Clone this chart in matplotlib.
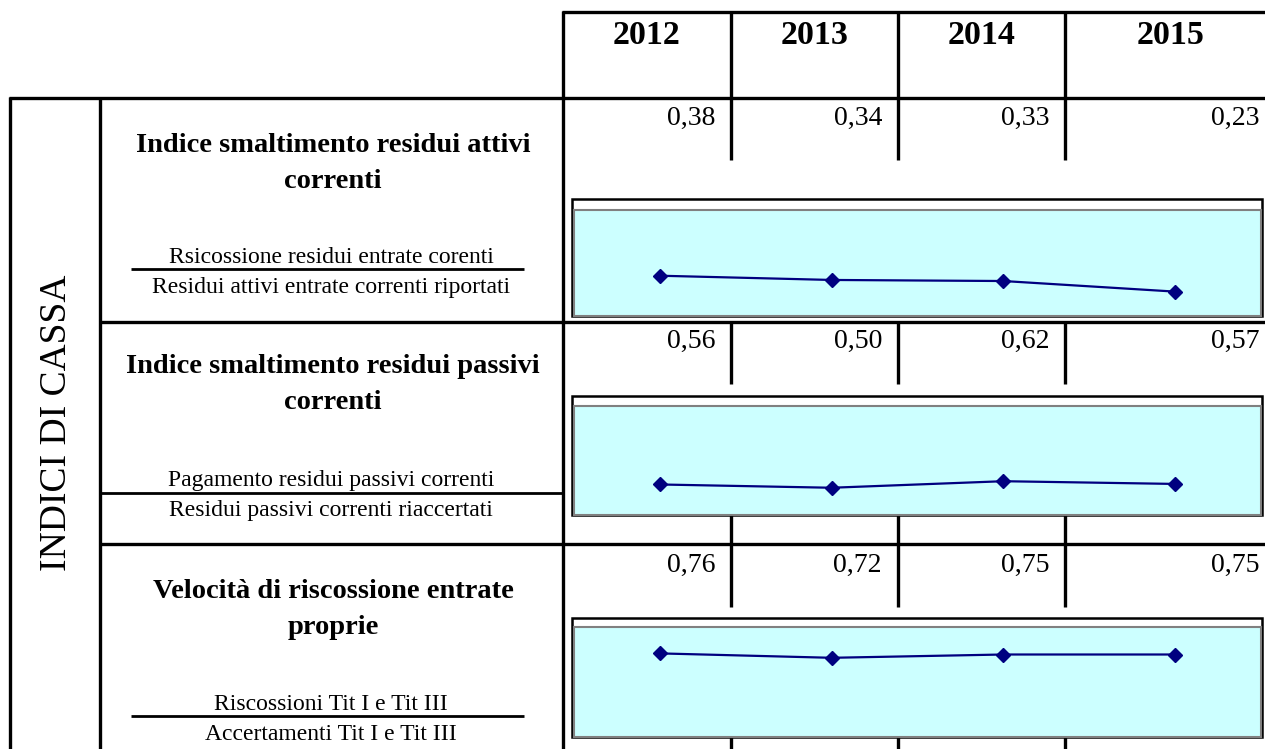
import matplotlib
matplotlib.use('Agg')
import matplotlib.pyplot as plt
from matplotlib.patches import Rectangle

plt.rcParams['font.family'] = ['Liberation Serif', 'DejaVu Serif']

# indicatori di cassa per anno
anni = ['2012', '2013', '2014', '2015']
smaltimento_attivi = [0.38, 0.34, 0.33, 0.23]
smaltimento_passivi = [0.56, 0.50, 0.62, 0.57]
velocita_riscossione = [0.76, 0.72, 0.75, 0.75]

titoli = [
    'Indice smaltimento residui attivi\ncorrenti',
    'Indice smaltimento residui passivi\ncorrenti',
    'Velocità di riscossione entrate\nproprie',
]
numeratori = [
    'Rsicossione residui entrate corenti',
    'Pagamento residui passivi correnti',
    'Riscossioni Tit I e Tit III',
]
denominatori = [
    'Residui attivi entrate correnti riportati',
    'Residui passivi correnti riaccertati',
    'Accertamenti Tit I e Tit III',
]
serie = [smaltimento_attivi, smaltimento_passivi, velocita_riscossione]
y_max = [1, 2, 1]

W, H = 1265, 749
fig = plt.figure(figsize=(W / 100, H / 100), dpi=100)
base = fig.add_axes([0, 0, 1, 1])
base.set_xlim(0, W)
base.set_ylim(H, 0)
base.axis('off')

LW = 2.4
col_x = [731, 898, 1065]
col_right = [715, 882, 1049, 1259]

def vline(x, y0, y1, lw=LW):
    base.plot([x, x], [y0, y1], color='black', lw=lw, solid_capstyle='butt')

def hline(y, x0, x1, lw=LW):
    base.plot([x0, x1], [y, y], color='black', lw=lw, solid_capstyle='butt')

# intestazione anni
hline(12, 562, W)
hline(98, 9, W)
vline(563, 11, H)
for x in col_x:
    vline(x, 11, 98)
col_bounds = [563] + col_x + [1277]
for i, a in enumerate(anni):
    cx = (col_bounds[i] + col_bounds[i + 1]) / 2
    base.text(cx, 44, a, ha='center', va='baseline', fontsize=24.5,
              fontweight='bold')

# colonna laterale
vline(10, 97, H)
vline(100, 97, H)
base.text(57, 423, 'INDICI DI CASSA', rotation=90, ha='center', va='center',
          fontsize=27)

# geometria delle righe
righe = [
    dict(top=98, bottom=322, val=125, tick_end=160, box=(199, 210, 316),
         tit=152, num=263, frac=269, den=293, frac_x=(131, 524)),
    dict(top=322, bottom=544, val=348, tick_end=384, box=(396, 406, 515),
         tit=373, num=486, frac=493, den=516, frac_x=(100, 563)),
    dict(top=544, bottom=H, val=572, tick_end=607, box=(618, 627, 737),
         tit=598, num=710, frac=716, den=740, frac_x=(131, 524)),
]

for k, r in enumerate(righe):
    if k > 0:
        hline(r['top'], 99, W)
    # titolo e frazione
    riga1, riga2 = titoli[k].split('\n')
    base.text(333, r['tit'], riga1, ha='center', va='baseline',
              fontsize=20.5, fontweight='bold')
    base.text(333, r['tit'] + 36, riga2, ha='center', va='baseline',
              fontsize=20.5, fontweight='bold')
    base.text(331, r['num'], numeratori[k], ha='center', va='baseline',
              fontsize=17)
    hline(r['frac'], *r['frac_x'], lw=2)
    base.text(331, r['den'], denominatori[k], ha='center', va='baseline',
              fontsize=17)

    # valori e separatori
    for i, v in enumerate(serie[k]):
        base.text(col_right[i], r['val'], f'{v:.2f}'.replace('.', ','),
                  ha='right', va='baseline', fontsize=20)
    box_top, plot_top, box_bot = r['box']
    for x in col_x:
        vline(x, r['top'], r['tick_end'])
        if k > 0:
            vline(x, box_bot, r['bottom'])

    # area grafico
    base.add_patch(Rectangle((572, box_top), 1262 - 572, box_bot - box_top,
                             facecolor='white', edgecolor='black', lw=1.8,
                             zorder=3))
    ax = fig.add_axes([574 / W, 1 - box_bot / H, (1261 - 574) / W,
                       (box_bot - plot_top) / H])
    ax.set_facecolor('#CCFFFF')
    ax.plot(range(len(anni)), serie[k], color='#000080', lw=1.6,
            marker='D', markersize=7, markerfacecolor='#000080',
            markeredgecolor='#000080')
    ax.set_xlim(-0.5, len(anni) - 0.5)
    ax.set_ylim(0, y_max[k])
    ax.set_xticks([])
    ax.set_yticks([])
    for s in ax.spines.values():
        s.set_color('#808080')
        s.set_linewidth(1.5)

fig.savefig('out.png', dpi=100)
